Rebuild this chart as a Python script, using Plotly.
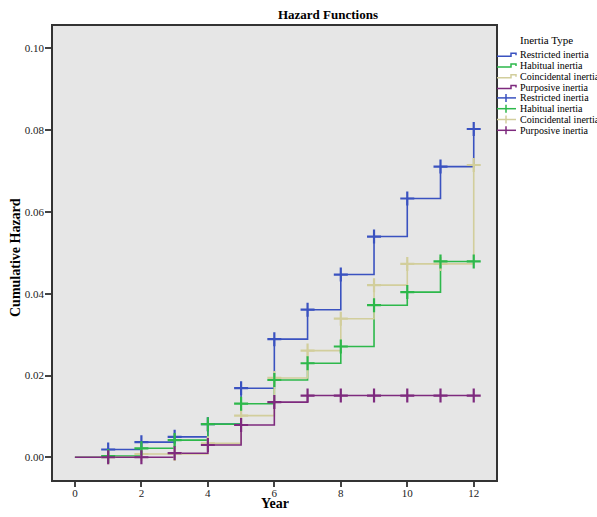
import plotly.graph_objects as go

years = [0, 1, 2, 3, 4, 5, 6, 7, 8, 9, 10, 11, 12]
series_names = ["Restricted inertia", "Habitual inertia", "Coincidental inertia", "Purposive inertia"]
restricted = [0, 0.0019, 0.0037, 0.0050, 0.0081, 0.0169, 0.0289, 0.0361, 0.0447, 0.0540, 0.0633, 0.0711, 0.0803]
habitual = [0, 0.0003, 0.0022, 0.0042, 0.0081, 0.0131, 0.0189, 0.0230, 0.0271, 0.0372, 0.0404, 0.0479, 0.0479]
coincidental = [0, 0.0000, 0.0008, 0.0008, 0.0034, 0.0102, 0.0194, 0.0261, 0.0339, 0.0421, 0.0473, 0.0473, 0.0715]
purposive = [0, 0.0000, 0.0000, 0.0010, 0.0030, 0.0079, 0.0135, 0.0151, 0.0151, 0.0151, 0.0151, 0.0151, 0.0151]
x_ticks = [0, 2, 4, 6, 8, 10, 12]
y_ticks = [0.00, 0.02, 0.04, 0.06, 0.08, 0.10]

colors = ["#3A52C0", "#2DB84B", "#D2CE9C", "#7E2A7E"]
values = [restricted, habitual, coincidental, purposive]

FONT = "Liberation Serif, Times New Roman, serif"

fig = go.Figure()
for name, vals, col in zip(series_names, values, colors):
    fig.add_trace(go.Scatter(x=years, y=vals, mode="lines", line=dict(color=col, width=1.6, shape="hv"),
                             name=name, showlegend=False))
for idx in [0, 2, 1, 3]:
    fig.add_trace(go.Scatter(x=years[1:], y=values[idx][1:], mode="markers",
                             marker=dict(symbol="cross-thin", size=10, line=dict(color=colors[idx], width=2.2), color=colors[idx]),
                             name=series_names[idx], showlegend=False))

L, R, T, B = 53, 496, 26, 480
W, H = R - L, B - T
def px(x):
    return (x - L) / W
def py(y):
    return (B - y) / H

annotations = [
    dict(text="<b>Year</b>", x=px(275), y=py(503), xref="paper", yref="paper", showarrow=False,
         xanchor="center", yanchor="middle", font=dict(family=FONT, size=14, color="#000")),
    dict(text="<b>Cumulative Hazard</b>", x=px(15), y=py(258), xref="paper", yref="paper", showarrow=False,
         textangle=-90, xanchor="center", yanchor="middle", font=dict(family=FONT, size=14, color="#000")),
    dict(text="Inertia Type", x=px(546), y=py(40), xref="paper", yref="paper", showarrow=False,
         xanchor="center", yanchor="middle", font=dict(family=FONT, size=11, color="#000")),
]
shapes = []
legend_items = [(n, c, "step") for n, c in zip(series_names, colors)] + [(n, c, "cross") for n, c in zip(series_names, colors)]
for i, (name, col, kind) in enumerate(legend_items):
    yc = 54.7 + 10.8 * i
    annotations.append(dict(text=name, x=px(518), y=py(yc), xref="paper", yref="paper", showarrow=False,
                            xanchor="left", yanchor="middle", font=dict(family=FONT, size=10, color="#000")))
    if kind == "step":
        path = (f"M {px(497)} {py(yc + 1.5)} L {px(511)} {py(yc + 1.5)} L {px(511)} {py(yc - 1.5)} "
                f"L {px(516)} {py(yc - 1.5)} L {px(516)} {py(yc + 0.5)}")
        shapes.append(dict(type="path", path=path, xref="paper", yref="paper", line=dict(color=col, width=1.5)))
    else:
        shapes.append(dict(type="line", x0=px(497), x1=px(516), y0=py(yc), y1=py(yc), xref="paper", yref="paper",
                           line=dict(color=col, width=1.5)))
        shapes.append(dict(type="line", x0=px(506), x1=px(506), y0=py(yc - 4), y1=py(yc + 4), xref="paper", yref="paper",
                           line=dict(color=col, width=1.5)))

fig.update_layout(
    width=597, height=517,
    margin=dict(l=L, r=597 - R, t=T, b=517 - B),
    paper_bgcolor="white", plot_bgcolor="#E6E6E6",
    title=dict(text="<b>Hazard Functions</b>", x=328 / 597, xref="container", xanchor="center",
               y=1 - 14 / 517, yref="container", yanchor="middle", font=dict(family=FONT, size=13, color="#000")),
    font=dict(family=FONT, size=11, color="#222"),
    showlegend=False,
    annotations=annotations,
    shapes=shapes,
)
fig.update_xaxes(range=[-0.66, 12.67], tickvals=x_ticks, ticktext=[str(v) for v in x_ticks],
                 ticks="outside", ticklen=5, tickwidth=1.5, tickcolor="#444", showgrid=False, zeroline=False,
                 showline=True, linecolor="#333", linewidth=1.5, mirror=True, ticklabelstandoff=-3,
                 tickfont=dict(family=FONT, size=11, color="#222"))
fig.update_yaxes(range=[-0.00556, 0.1055], tickvals=y_ticks, ticktext=[f"{v:.2f}" for v in y_ticks],
                 ticks="outside", ticklen=6, tickwidth=1.5, tickcolor="#444", showgrid=False, zeroline=False,
                 showline=True, linecolor="#333", linewidth=1.5, mirror=True, ticklabelstandoff=-1,
                 tickfont=dict(family=FONT, size=11, color="#222"))

fig.write_html("out.html", config={"displayModeBar": False},
               post_script="document.body.style.margin='0';document.body.style.padding='0';document.body.style.overflow='hidden';")
